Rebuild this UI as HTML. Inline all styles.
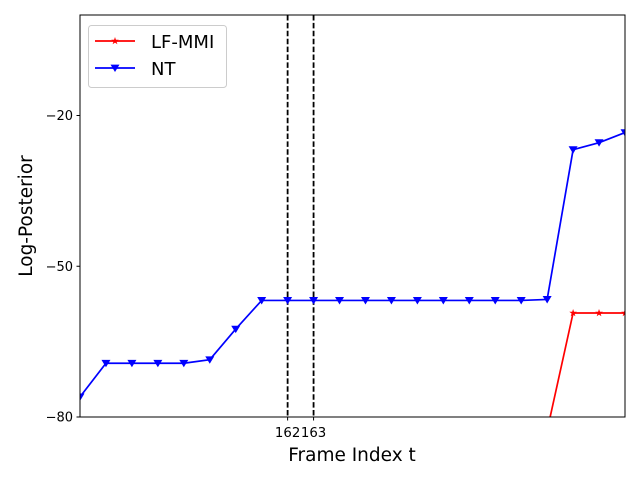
<!DOCTYPE html>
<html><head><meta charset="utf-8"><style>body{margin:0;background:#fff}svg{display:block;font-family:"DejaVu Sans","Liberation Sans",sans-serif}</style></head>
<body>
<svg id="chart" width="640" height="480"></svg>
<script>
const frames=[154,155,156,157,158,159,160,161,162,163,164,165,166,167,168,169,170,171,172,173,174,175];
const ntValues=[-76.0,-69.3,-69.3,-69.3,-69.3,-68.6,-62.5,-56.8,-56.8,-56.8,-56.8,-56.8,-56.8,-56.8,-56.8,-56.8,-56.8,-56.8,-56.6,-26.8,-25.4,-23.4];
const lfValues=[-95,-95,-95,-95,-95,-95,-95,-95,-95,-95,-95,-95,-95,-95,-95,-95,-95,-95,-82.7,-59.3,-59.3,-59.3];
const yTicks=[-20,-50,-80];
const xTicks=[162,163];
const vLines=[162,163];
const NS="http://www.w3.org/2000/svg";
const svg=document.getElementById('chart');
const L=80,R=625,T=15,B=417;
const xs=v=>L+(v-154)/(175-154)*(R-L);
const ys=v=>B-(v+80)/80*(B-T);
function mk(t,a,p){const e=document.createElementNS(NS,t);for(const k in a)e.setAttribute(k,a[k]);(p||svg).appendChild(e);return e;}
const defs=mk('defs',{});const cp=mk('clipPath',{id:'clip'},defs);mk('rect',{x:L,y:T,width:R-L,height:B-T},cp);
const g=mk('g',{'clip-path':'url(#clip)'});


vLines.forEach(v=>{const l=mk('line',{x1:xs(v),x2:xs(v),y1:T,y2:B,stroke:'#000','stroke-width':1.8,'stroke-dasharray':'5.5,2.4'},g);

});
function star(cx,cy,r){let p=[];for(let i=0;i<10;i++){const a=-Math.PI/2+i*Math.PI/5;const rr=i%2?r*0.4:r;p.push((cx+rr*Math.cos(a)).toFixed(1)+','+(cy+rr*Math.sin(a)).toFixed(1));}return p.join(' ');}
function tri(cx,cy,r){return `${cx-r},${cy-r*0.75} ${cx+r},${cy-r*0.75} ${cx},${cy+r*0.9}`;}
function series(vals,color,name,shape){
const s=mk('g',{},g);


mk('polyline',{points:vals.map((v,i)=>xs(frames[i])+','+ys(v)).join(' '),fill:'none',stroke:color,'stroke-width':1.7},s);
vals.forEach((v,i)=>{const m=mk('polygon',{points:shape(xs(frames[i]),ys(v),shape===star?4:4.5),fill:color},s);

});}
series(lfValues,'#ff0000','lf-mmi',star);
series(ntValues,'#0000ff','nt',tri);
const fr=mk('rect',{x:L,y:T,width:R-L,height:B-T,fill:'none',stroke:'#000','stroke-width':1});


yTicks.forEach(v=>{mk('line',{x1:L-3.5,x2:L,y1:ys(v),y2:ys(v),stroke:'#000'});
const t=mk('text',{x:L-7,y:ys(v)+4.5,'text-anchor':'end','font-size':13});t.textContent='\u2212'+Math.abs(v);

});
xTicks.forEach(v=>{mk('line',{x1:xs(v),x2:xs(v),y1:B,y2:B+3.5,stroke:'#000'});
const t=mk('text',{x:xs(v),y:B+20,'text-anchor':'middle','font-size':13.3});t.textContent=v;

});
const xt=mk('text',{x:352,y:461,'text-anchor':'middle','font-size':18.5});xt.textContent='Frame Index t';


const yt=mk('text',{x:32,y:216,'text-anchor':'middle','font-size':18.5,transform:'rotate(-90 32 216)'});yt.textContent='Log-Posterior';


const lg=mk('g',{});


mk('rect',{x:88.5,y:25.5,width:138,height:62,rx:3,fill:'#fff',stroke:'#ccc'},lg);
[['LF-MMI','#ff0000',star,43],['NT','#0000ff',tri,70]].forEach(([n,c,sh,y])=>{
const e=mk('g',{},lg);


mk('line',{x1:95,x2:135,y1:y-2,y2:y-2,stroke:c,'stroke-width':1.7},e);
mk('polygon',{points:sh(115,y-2,sh===star?4:4.5),fill:c},e);
const t=mk('text',{x:151,y:y+5,'font-size':18},e);t.textContent=n;});
</script>
</body></html>
